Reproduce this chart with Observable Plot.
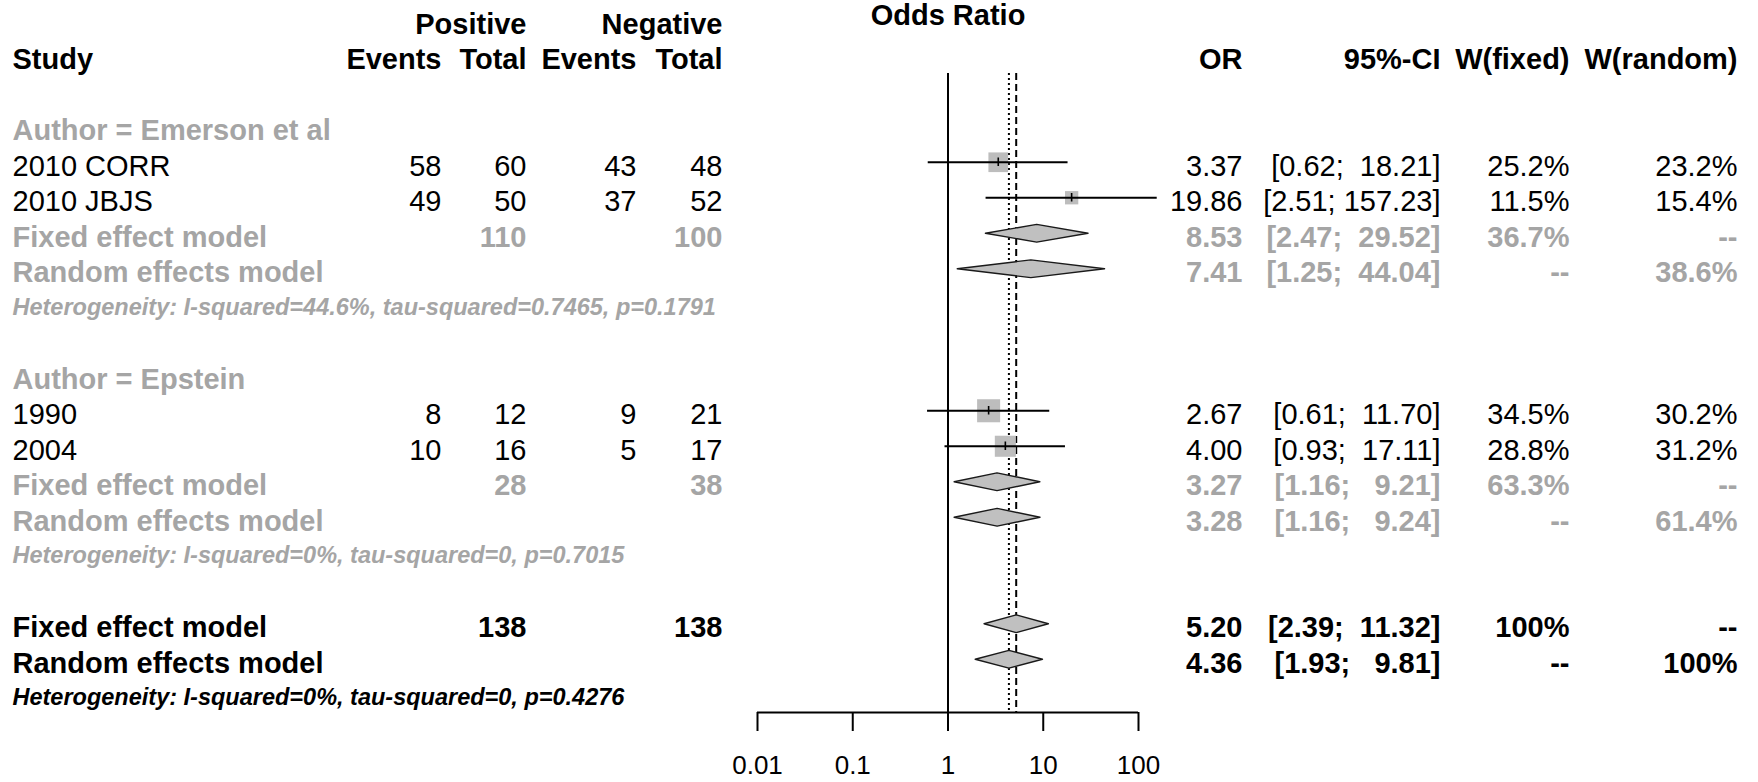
<!DOCTYPE html>
<html>
<head>
<meta charset="utf-8">
<script src="https://cdn.jsdelivr.net/npm/d3@7"></script>
<script src="https://cdn.jsdelivr.net/npm/@observablehq/plot@0.6"></script>
<style>
  html, body { margin: 0; padding: 0; background: #fff; }
  #chart svg text { white-space: pre; }
</style>
</head>
<body>
<div id="chart"></div>
<script>
// ---------------- data ----------------
const groupNames = ["Emerson et al", "Epstein"];

const studyLabels   = ["2010 CORR", "2010 JBJS", "1990", "2004"];
const studyGroup    = [0, 0, 1, 1];
const posEvents     = [58, 49, 8, 10];
const posTotal      = [60, 50, 12, 16];
const negEvents     = [43, 37, 9, 5];
const negTotal      = [48, 52, 21, 17];
const studyOR       = [3.37, 19.86, 2.67, 4.00];
const studyLower    = [0.62, 2.51, 0.61, 0.93];
const studyUpper    = [18.21, 157.23, 11.70, 17.11];
const studyWFixed   = [25.2, 11.5, 34.5, 28.8];
const studyWRandom  = [23.2, 15.4, 30.2, 31.2];

const subPosTotal   = [110, 28];
const subNegTotal   = [100, 38];
const subFixedOR    = [8.53, 3.27];
const subFixedLower = [2.47, 1.16];
const subFixedUpper = [29.52, 9.21];
const subFixedW     = [36.7, 63.3];
const subRandomOR   = [7.41, 3.28];
const subRandomLower= [1.25, 1.16];
const subRandomUpper= [44.04, 9.24];
const subRandomW    = [38.6, 61.4];
const subHet = [
  "Heterogeneity: I-squared=44.6%, tau-squared=0.7465, p=0.1791",
  "Heterogeneity: I-squared=0%, tau-squared=0, p=0.7015"
];

const allPosTotal = 138;
const allNegTotal = 138;
const allFixed  = {or: 5.20, lo: 2.39, hi: 11.32, w: 100};
const allRandom = {or: 4.36, lo: 1.93, hi: 9.81, w: 100};
const allHet = "Heterogeneity: I-squared=0%, tau-squared=0, p=0.4276";

const xTicks      = [0.01, 0.1, 1, 10, 100];
const xTickLabels = ["0.01", "0.1", "1", "10", "100"];

// ---------------- formatting ----------------
const fmtOR = v => v.toFixed(2);
const fmtCI = (lo, hi) => `[${lo.toFixed(2)}; ${hi.toFixed(2).padStart(6)}]`;
const fmtW  = w => w == null ? "--" : (w === 100 ? "100%" : w.toFixed(1) + "%");

// ---------------- table rows ----------------
const rows = [];
let r = -1;
groupNames.forEach((g, gi) => {
  rows.push({row: r++, kind: "group", label: `Author = ${g}`});
  studyLabels.forEach((s, i) => {
    if (studyGroup[i] !== gi) return;
    rows.push({row: r++, kind: "study", label: s,
      pe: String(posEvents[i]), pt: String(posTotal[i]), ne: String(negEvents[i]), nt: String(negTotal[i]),
      est: studyOR[i], lo: studyLower[i], hi: studyUpper[i], w: studyWFixed[i],
      orT: fmtOR(studyOR[i]), ciT: fmtCI(studyLower[i], studyUpper[i]),
      wfT: fmtW(studyWFixed[i]), wrT: fmtW(studyWRandom[i])});
  });
  rows.push({row: r++, kind: "sub", model: "fixed", label: "Fixed effect model",
    pt: String(subPosTotal[gi]), nt: String(subNegTotal[gi]),
    est: subFixedOR[gi], lo: subFixedLower[gi], hi: subFixedUpper[gi],
    orT: fmtOR(subFixedOR[gi]), ciT: fmtCI(subFixedLower[gi], subFixedUpper[gi]),
    wfT: fmtW(subFixedW[gi]), wrT: "--"});
  rows.push({row: r++, kind: "sub", model: "random", label: "Random effects model",
    est: subRandomOR[gi], lo: subRandomLower[gi], hi: subRandomUpper[gi],
    orT: fmtOR(subRandomOR[gi]), ciT: fmtCI(subRandomLower[gi], subRandomUpper[gi]),
    wfT: "--", wrT: fmtW(subRandomW[gi])});
  rows.push({row: r++, kind: "subhet", label: subHet[gi]});
  r++;
});
rows.push({row: r++, kind: "all", model: "fixed", label: "Fixed effect model",
  pt: String(allPosTotal), nt: String(allNegTotal),
  est: allFixed.or, lo: allFixed.lo, hi: allFixed.hi,
  orT: fmtOR(allFixed.or), ciT: fmtCI(allFixed.lo, allFixed.hi), wfT: fmtW(allFixed.w), wrT: "--"});
rows.push({row: r++, kind: "all", model: "random", label: "Random effects model",
  est: allRandom.or, lo: allRandom.lo, hi: allRandom.hi,
  orT: fmtOR(allRandom.or), ciT: fmtCI(allRandom.lo, allRandom.hi), wfT: "--", wrT: fmtW(allRandom.w)});
rows.push({row: r++, kind: "allhet", label: allHet});
const lastRow = r - 1;

const headers = [
  {row: -4, pt: "Positive", nt: "Negative"},
  {row: -3, label: "Study", pe: "Events", pt: "Total", ne: "Events", nt: "Total",
   orT: "OR", ciT: "95%-CI", wfT: "W(fixed)", wrT: "W(random)"}
];

// ---------------- layout / styles ----------------
const GREY = "#a5a5a5";
const FS = 29, FS_HET = 23.5;
const columns = [
  {key: "label", side: "left",  dx: -745, anchor: "start"},
  {key: "pe",    side: "left",  dx: -316, anchor: "end"},
  {key: "pt",    side: "left",  dx: -231, anchor: "end"},
  {key: "ne",    side: "left",  dx: -121, anchor: "end"},
  {key: "nt",    side: "left",  dx: -35,  anchor: "end"},
  {key: "orT",   side: "right", dx: 104,  anchor: "end"},
  {key: "ciT",   side: "right", dx: 302,  anchor: "end"},
  {key: "wfT",   side: "right", dx: 431,  anchor: "end"},
  {key: "wrT",   side: "right", dx: 599,  anchor: "end"}
];

function textCols(data, style) {
  return columns.map(c => Plot.text(data.filter(d => d[c.key] != null), {
    y: "row", text: d => d[c.key], frameAnchor: c.side, dx: c.dx, dy: style.dy ?? 4,
    textAnchor: c.anchor, lineAnchor: "middle",
    fill: style.fill, fontWeight: style.weight, fontStyle: style.italic ? "italic" : "normal",
    fontSize: style.size ?? FS
  }));
}

const studies = rows.filter(d => d.kind === "study");
const models = rows.filter(d => d.model);
const diamondPts = models.flatMap((d, i) => [
  {id: i, x: d.lo,  y: d.row},
  {id: i, x: d.est, y: d.row - 0.25},
  {id: i, x: d.hi,  y: d.row},
  {id: i, x: d.est, y: d.row + 0.25}
]);

const chart = Plot.plot({
  width: 1758,
  height: 782,
  marginLeft: 757,
  marginRight: 620,
  marginTop: 73,
  marginBottom: 70,
  style: {fontFamily: "'Liberation Sans', Arial, Helvetica, sans-serif", fontSize: "26px", background: "white", color: "black", overflow: "visible"},
  x: {type: "log", domain: [0.01, 100]},
  y: {domain: [-2.5, lastRow + 0.5], reverse: true, axis: null},
  r: {range: [0, 13]},
  marks: [
    // reference + pooled-effect lines
    Plot.ruleX([1], {stroke: "black", strokeWidth: 2}),
    Plot.ruleX([allRandom.or], {stroke: "black", strokeWidth: 2, strokeDasharray: "2,3"}),
    Plot.ruleX([allFixed.or], {stroke: "black", strokeWidth: 2, strokeDasharray: "7,4"}),
    // axis
    Plot.ruleY([lastRow + 0.5], {stroke: "black", strokeWidth: 2}),
    Plot.axisX({ticks: xTicks, tickFormat: d => xTickLabels[xTicks.indexOf(d)], tickSize: 19, tickPadding: 24,
      fontSize: 26, strokeWidth: 2, label: null, anchor: "bottom"}),
    // study squares, CI lines and estimate ticks
    Plot.dot(studies, {x: "est", y: "row", r: "w", symbol: "square", fill: "#bdbdbd", stroke: null}),
    Plot.ruleY(studies, {y: "row", x1: "lo", x2: "hi", stroke: "black", strokeWidth: 1.8}),
    Plot.ruleX(studies, {x: "est", y1: d => d.row - 0.12, y2: d => d.row + 0.12, stroke: "black", strokeWidth: 1.6}),
    // diamonds
    Plot.line(diamondPts, {x: "x", y: "y", z: "id", curve: "linear-closed", fill: "#c0c0c0", stroke: "#1a1a1a", strokeWidth: 1.4}),
    // title over the forest
    Plot.text(["Odds Ratio"], {y: [-4], frameAnchor: "middle", dy: -5, text: d => d, fontWeight: "bold", fontSize: FS, lineAnchor: "middle"}),
    // table text
    ...textCols(headers, {fill: "black", weight: "bold"}),
    ...textCols(rows.filter(d => d.kind === "study"), {fill: "black", weight: "normal"}),
    ...textCols(rows.filter(d => d.kind === "group"), {fill: GREY, weight: "bold"}),
    ...textCols(rows.filter(d => d.kind === "sub"), {fill: GREY, weight: "bold"}),
    ...textCols(rows.filter(d => d.kind === "subhet"), {fill: GREY, weight: "bold", italic: true, size: FS_HET, dy: 3}),
    ...textCols(rows.filter(d => d.kind === "all"), {fill: "black", weight: "bold"}),
    ...textCols(rows.filter(d => d.kind === "allhet"), {fill: "black", weight: "bold", italic: true, size: FS_HET, dy: 3})
  ]
});
document.getElementById("chart").appendChild(chart);
</script>
</body>
</html>
